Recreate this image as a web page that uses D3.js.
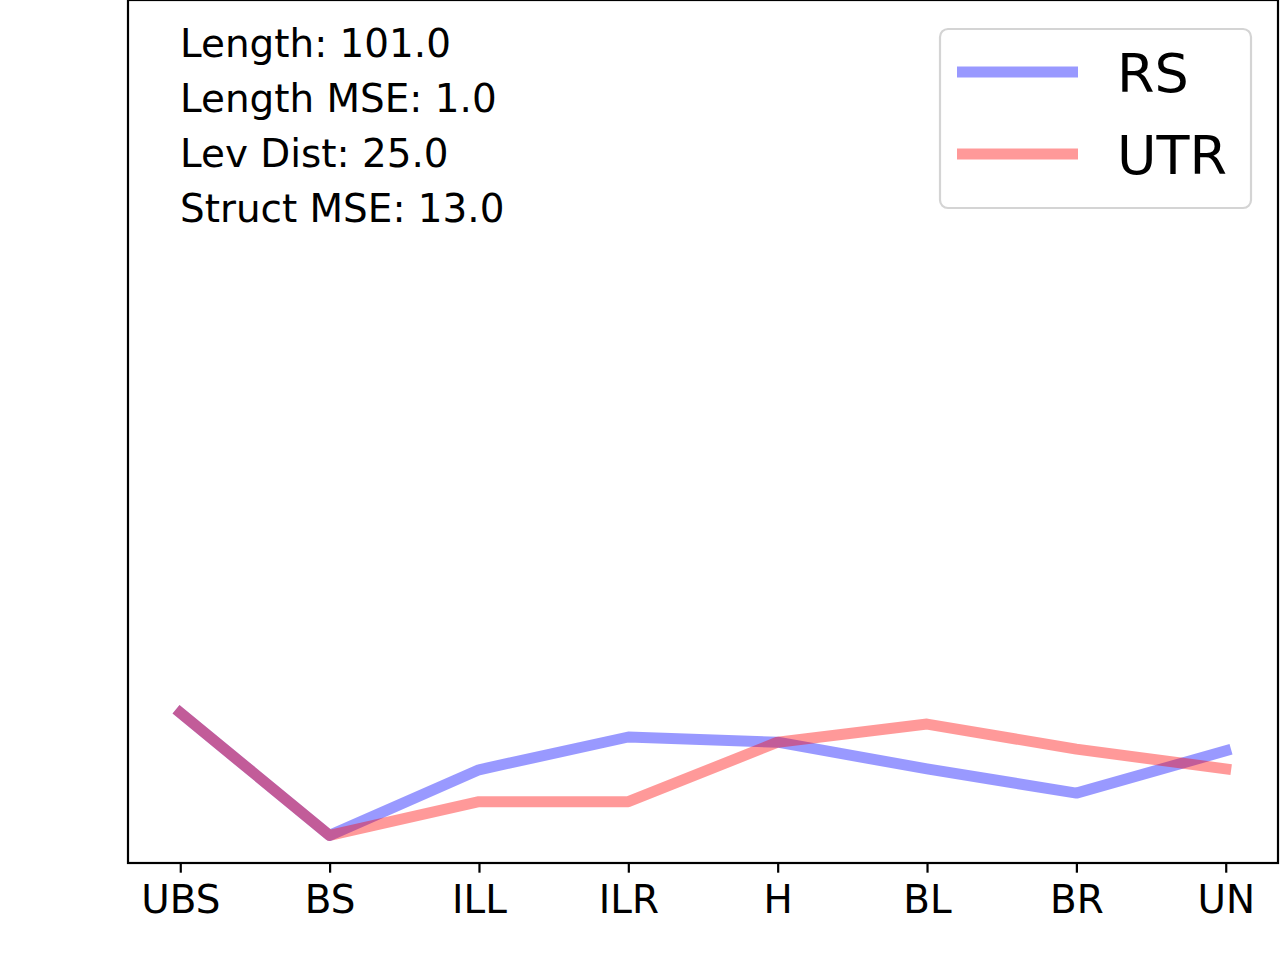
<!DOCTYPE html>
<html>
<head>
<meta charset="utf-8">
<script src="https://cdn.jsdelivr.net/npm/d3@7"></script>
<style>
  body { margin: 0; background: #fff; }
  text { font-family: "DejaVu Sans", sans-serif; }
</style>
</head>
<body>
<div id="chart"></div>
<script>
// categories along the x axis
var categories = ["UBS", "BS", "ILL", "ILR", "H", "BL", "BR", "UN"];

// series values (no y ticks shown)
var rsValues = [0.174, 0.032, 0.108, 0.146, 0.140, 0.109, 0.081, 0.130];
var utrValues = [0.174, 0.032, 0.071, 0.071, 0.140, 0.161, 0.132, 0.109];

var seriesNames = ["RS", "UTR"];
var seriesColors = ["#0000ff", "#ff0000"];

var statLabels = ["Length: 101.0", "Length MSE: 1.0", "Lev Dist: 25.0", "Struct MSE: 13.0"];

var svgWidth = 1280;
var svgHeight = 960;

var margin = { top: 0, right: 2, bottom: 97, left: 128 };
var width = svgWidth - margin.left - margin.right;
var height = svgHeight - margin.top - margin.bottom;

var svg = d3.select("#chart")
  .append("svg")
  .attr("width", svgWidth)
  .attr("height", svgHeight);

var chartGroup = svg.append("g")
  .attr("transform", `translate(${margin.left}, ${margin.top})`);

// x scale, padding in step units on each side (like matplotlib's 5% margins)
var xScale = d3.scalePoint()
  .domain(categories)
  .range([0, width])
  .padding(0.35);

var yScale = d3.scaleLinear()
  .domain([0, 1])
  .range([height, 0]);

// lines
var line = d3.line()
  .x(function(d, i) { return xScale(categories[i]); })
  .y(function(d) { return yScale(d); });

[rsValues, utrValues].forEach(function(vals, i) {
  chartGroup.append("path")
    .datum(vals)
    .attr("d", line)
    .attr("fill", "none")
    .attr("stroke", seriesColors[i])
    .attr("stroke-opacity", 0.4)
    .attr("stroke-width", 11)
    .attr("stroke-linejoin", "round")
    .attr("stroke-linecap", "square");
});

// x axis
var bottomAxis = d3.axisBottom(xScale)
  .tickSize(9.7)
  .tickPadding(13);

var xAxis = chartGroup.append("g")
  .attr("transform", `translate(0, ${height})`)
  .call(bottomAxis);

xAxis.select(".domain").remove();
xAxis.selectAll(".tick line")
  .attr("stroke", "#000")
  .attr("stroke-width", 2.2);
xAxis.selectAll(".tick text")
  .attr("font-size", "38.9px")
  .attr("font-family", "DejaVu Sans")
  .attr("fill", "#000");

// frame
chartGroup.append("rect")
  .attr("x", 0)
  .attr("y", 0)
  .attr("width", width)
  .attr("height", height)
  .attr("fill", "none")
  .attr("stroke", "#000")
  .attr("stroke-width", 2.2);

// stats text
chartGroup.selectAll(".stat")
  .data(statLabels)
  .enter()
  .append("text")
  .attr("class", "stat")
  .attr("x", 52)
  .attr("y", function(d, i) { return 57 + i * 55; })
  .attr("font-size", "38.9px")
  .attr("fill", "#000")
  .text(function(d) { return d; });

// legend
var legend = svg.append("g")
  .attr("transform", "translate(940, 29)");

legend.append("rect")
  .attr("x", 0)
  .attr("y", 0)
  .attr("width", 311)
  .attr("height", 179)
  .attr("rx", 8)
  .attr("fill", "#fff")
  .attr("fill-opacity", 0.8)
  .attr("stroke", "#d4d4d4")
  .attr("stroke-width", 2.2);

seriesNames.forEach(function(name, i) {
  var y = 43 + i * 82;
  legend.append("line")
    .attr("x1", 17)
    .attr("x2", 138)
    .attr("y1", y)
    .attr("y2", y)
    .attr("stroke", seriesColors[i])
    .attr("stroke-opacity", 0.4)
    .attr("stroke-width", 11);
  legend.append("text")
    .attr("x", 177)
    .attr("y", y + 20)
    .attr("font-size", "54px")
    .attr("fill", "#000")
    .text(name);
});
</script>
</body>
</html>
